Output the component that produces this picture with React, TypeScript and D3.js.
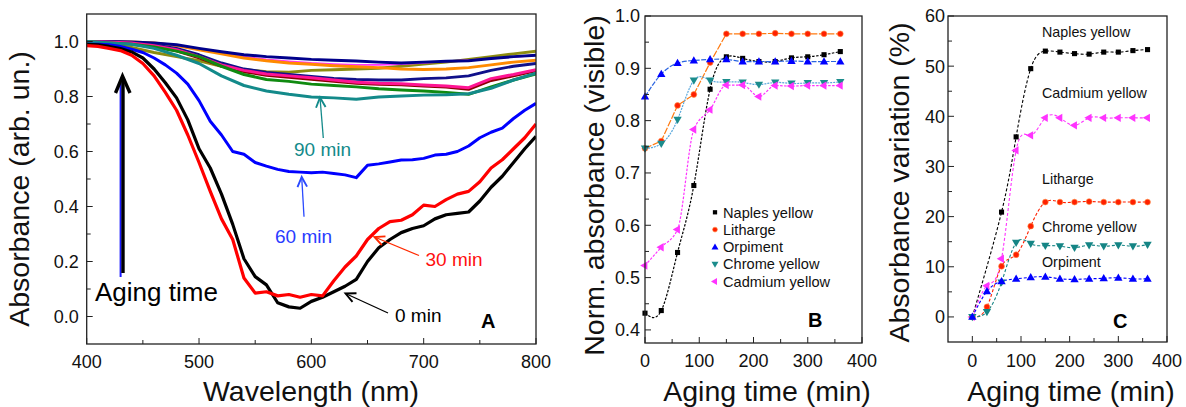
import React from "react";
import * as d3 from "d3";

const FONT = "'Liberation Sans', Arial, Helvetica, sans-serif";

// ---------------- Panel A data ----------------
const wavelengths = [400, 410, 420, 430, 440, 450, 460, 470, 480, 490, 500, 510, 520, 530, 540, 550, 560, 570, 580, 590, 600, 610, 620, 630, 640, 650, 660, 670, 680, 690, 700, 710, 720, 730, 740, 750, 760, 770, 780, 790, 800];
const wavelengths20 = [400, 420, 440, 460, 480, 500, 520, 540, 560, 580, 600, 620, 640, 660, 680, 700, 720, 740, 760, 780, 800];

const spec0min = [0.99, 0.988, 0.982, 0.974, 0.962, 0.94, 0.9, 0.85, 0.795, 0.715, 0.61, 0.54, 0.445, 0.335, 0.21, 0.145, 0.115, 0.05, 0.035, 0.03, 0.055, 0.07, 0.09, 0.11, 0.135, 0.2, 0.25, 0.28, 0.305, 0.32, 0.33, 0.355, 0.37, 0.375, 0.38, 0.42, 0.47, 0.51, 0.56, 0.61, 0.655];
const spec30min = [0.985, 0.982, 0.975, 0.967, 0.95, 0.92, 0.875, 0.815, 0.75, 0.66, 0.56, 0.455, 0.355, 0.28, 0.14, 0.085, 0.09, 0.075, 0.08, 0.07, 0.08, 0.075, 0.13, 0.18, 0.22, 0.28, 0.32, 0.345, 0.35, 0.37, 0.405, 0.4, 0.425, 0.445, 0.455, 0.49, 0.54, 0.57, 0.61, 0.65, 0.7];
const spec60min = [0.99, 0.99, 0.988, 0.982, 0.972, 0.96, 0.94, 0.915, 0.885, 0.845, 0.785, 0.71, 0.66, 0.6, 0.59, 0.56, 0.547, 0.535, 0.527, 0.525, 0.523, 0.525, 0.52, 0.515, 0.505, 0.55, 0.555, 0.562, 0.569, 0.57, 0.575, 0.587, 0.59, 0.6, 0.62, 0.65, 0.67, 0.685, 0.72, 0.75, 0.775];
const spec90min = [1.0, 0.995, 0.99, 0.975, 0.95, 0.92, 0.875, 0.84, 0.82, 0.808, 0.798, 0.795, 0.79, 0.798, 0.802, 0.805, 0.806, 0.81, 0.83, 0.86, 0.885];
const specGreen = [1.0, 0.995, 0.99, 0.98, 0.965, 0.945, 0.91, 0.88, 0.862, 0.855, 0.845, 0.84, 0.835, 0.828, 0.824, 0.82, 0.815, 0.808, 0.835, 0.86, 0.882];
const specPink = [1.0, 0.998, 0.995, 0.985, 0.97, 0.945, 0.915, 0.895, 0.882, 0.875, 0.868, 0.86, 0.852, 0.848, 0.846, 0.842, 0.838, 0.832, 0.865, 0.88, 0.897];
const specMaroon = [0.998, 0.996, 0.992, 0.982, 0.966, 0.94, 0.91, 0.89, 0.877, 0.87, 0.862, 0.855, 0.848, 0.844, 0.842, 0.838, 0.834, 0.826, 0.858, 0.875, 0.893];
const specNavy2 = [1.0, 0.998, 0.995, 0.988, 0.975, 0.952, 0.922, 0.9, 0.888, 0.88, 0.873, 0.866, 0.862, 0.86, 0.86, 0.865, 0.868, 0.875, 0.895, 0.91, 0.92];
const specOlive = [0.995, 0.99, 0.978, 0.96, 0.945, 0.93, 0.91, 0.898, 0.89, 0.888, 0.895, 0.897, 0.9, 0.903, 0.91, 0.918, 0.925, 0.935, 0.945, 0.955, 0.965];
const specMagenta = [1.0, 0.999, 0.998, 0.992, 0.985, 0.972, 0.958, 0.945, 0.935, 0.928, 0.922, 0.918, 0.915, 0.915, 0.918, 0.922, 0.928, 0.932, 0.938, 0.944, 0.95];
const specOrange = [1.0, 1.0, 0.998, 0.995, 0.985, 0.97, 0.955, 0.94, 0.93, 0.922, 0.917, 0.912, 0.908, 0.905, 0.9, 0.898, 0.9, 0.905, 0.915, 0.925, 0.932];
const specNavy = [1.0, 1.0, 0.998, 0.995, 0.988, 0.975, 0.963, 0.952, 0.945, 0.94, 0.935, 0.932, 0.929, 0.925, 0.922, 0.925, 0.928, 0.93, 0.938, 0.945, 0.95];

const xTicksA = [400, 500, 600, 700, 800];
const xMinorA = [450, 550, 650, 750];
const yTicksA = [0, 0.2, 0.4, 0.6, 0.8, 1.0];
const yMinorA = [0.1, 0.3, 0.5, 0.7, 0.9];

// ---------------- Panels B & C data ----------------
const agingTimes = [0, 30, 60, 90, 120, 150, 180, 210, 240, 270, 300, 330, 360];
const seriesNames = ["Naples yellow", "Litharge", "Orpiment", "Chrome yellow", "Cadmium yellow"];

const normNaples = [0.432, 0.437, 0.548, 0.676, 0.86, 0.922, 0.919, 0.913, 0.913, 0.92, 0.922, 0.926, 0.932];
const normLitharge = [0.747, 0.761, 0.829, 0.85, 0.911, 0.966, 0.966, 0.966, 0.967, 0.966, 0.966, 0.966, 0.966];
const normOrpiment = [0.846, 0.889, 0.91, 0.915, 0.917, 0.917, 0.913, 0.913, 0.913, 0.914, 0.913, 0.913, 0.913];
const normChrome = [0.747, 0.756, 0.802, 0.877, 0.877, 0.874, 0.873, 0.869, 0.873, 0.871, 0.872, 0.872, 0.874];
const normCadmium = [0.523, 0.558, 0.592, 0.783, 0.821, 0.868, 0.868, 0.846, 0.867, 0.866, 0.867, 0.867, 0.867];

const varNaples = [0, null, 20.9, 35.9, 49.5, 53.0, 52.8, 52.5, 52.4, 52.8, 52.8, 53.1, 53.3];
const varCadmium = [0, 6.2, 11.6, 33.2, 36.2, 39.7, 39.7, 38.2, 39.7, 39.7, 39.7, 39.7, 39.7];
const varLitharge = [0, 2.0, 10.1, 12.4, 18.1, 22.9, 22.9, 22.9, 23.0, 22.9, 22.9, 22.9, 22.9];
const varChrome = [0, 1.0, 6.9, 14.8, 14.6, 14.2, 14.1, 13.8, 14.3, 14.1, 14.3, 14.1, 14.4];
const varOrpiment = [0, 5.1, 7.1, 7.6, 7.9, 8.0, 7.6, 7.5, 7.6, 7.7, 7.8, 7.6, 7.6];

const xTicksBC = [0, 100, 200, 300, 400];
const xMinorBC = [50, 150, 250, 350];
const yTicksB = [0.4, 0.5, 0.6, 0.7, 0.8, 0.9, 1.0];
const yMinorB = [0.45, 0.55, 0.65, 0.75, 0.85, 0.95];
const yTicksC = [0, 10, 20, 30, 40, 50, 60];
const yMinorC = [5, 15, 25, 35, 45, 55];

// ---------------- Layout ----------------
const W = 1186, H = 407;
const boxA = { l: 86.7, r: 536, t: 14, b: 344 };
const boxB = { l: 645, r: 862, t: 16, b: 343 };
const boxC = { l: 948, r: 1167, t: 16, b: 342 };

const xA = d3.scaleLinear().domain([400, 800]).range([boxA.l, boxA.r]);
const yA = d3.scaleLinear().domain([-0.1, 1.1]).range([boxA.b, boxA.t]);
const xB = d3.scaleLinear().domain([0, 400]).range([boxB.l, boxB.r]);
const yB = d3.scaleLinear().domain([0.375, 1.0]).range([boxB.b, boxB.t]);
const xC = d3.scaleLinear().domain([-50, 400]).range([boxC.l, boxC.r]);
const yC = d3.scaleLinear().domain([-5, 60]).range([boxC.b, boxC.t]);

type Box = { l: number; r: number; t: number; b: number };

function Axes(props: {
  box: Box; xs: any; ys: any; xMajor: number[]; xMinor: number[]; yMajor: number[]; yMinor: number[];
  xFmt: (v: number) => string; yFmt: (v: number) => string; yLabelGap: number; xLabelY: number;
}) {
  const { box, xs, ys, xMajor, xMinor, yMajor, yMinor, xFmt, yFmt, yLabelGap, xLabelY } = props;
  const tl = 6, tm = 4;
  return (
    <g>
      {xMajor.map((v) => (
        <g key={"xM" + v}>
          <line x1={xs(v)} x2={xs(v)} y1={box.b} y2={box.b - tl} stroke="#222" strokeWidth={1} />
          <text x={xs(v)} y={xLabelY} textAnchor="middle" fontSize={18} fontFamily={FONT} fill="#111">{xFmt(v)}</text>
        </g>
      ))}
      {xMinor.map((v) => (
        <line key={"xm" + v} x1={xs(v)} x2={xs(v)} y1={box.b} y2={box.b - tm} stroke="#222" strokeWidth={1} />
      ))}
      {yMajor.map((v) => (
        <g key={"yM" + v}>
          <line x1={box.l} x2={box.l + tl} y1={ys(v)} y2={ys(v)} stroke="#222" strokeWidth={1} />
          <text x={box.l - yLabelGap} y={ys(v)} dy="0.36em" textAnchor="end" fontSize={18} fontFamily={FONT} fill="#111">{yFmt(v)}</text>
        </g>
      ))}
      {yMinor.map((v) => (
        <line key={"ym" + v} x1={box.l} x2={box.l + tm} y1={ys(v)} y2={ys(v)} stroke="#222" strokeWidth={1} />
      ))}
      <rect x={box.l} y={box.t} width={box.r - box.l} height={box.b - box.t} fill="none" stroke="#222" strokeWidth={1.3} />
    </g>
  );
}

function Arrow(props: { x1: number; y1: number; x2: number; y2: number; color: string; w?: number; head?: number }) {
  const { x1, y1, x2, y2, color } = props;
  const w = props.w ?? 1.3;
  const h = props.head ?? 11;
  const ang = Math.atan2(y2 - y1, x2 - x1);
  const a1 = ang + Math.PI - 0.45, a2 = ang + Math.PI + 0.45;
  const p1 = [x2 + h * Math.cos(a1), y2 + h * Math.sin(a1)];
  const p2 = [x2 + h * Math.cos(a2), y2 + h * Math.sin(a2)];
  return (
    <g stroke={color} fill="none" strokeWidth={w}>
      <line x1={x1} y1={y1} x2={x2} y2={y2} />
      <polyline points={`${p1[0]},${p1[1]} ${x2},${y2} ${p2[0]},${p2[1]}`} strokeWidth={w + 0.6} />
    </g>
  );
}

const symPath = (type: any, size: number) => d3.symbol().type(type).size(size)() as string;

function Marker(props: { kind: string; x: number; y: number; color: string; s?: number }) {
  const { kind, x, y, color } = props;
  const s = props.s ?? 1;
  if (kind === "square") return <path d={symPath(d3.symbolSquare, 26 * s)} transform={`translate(${x},${y})`} fill={color} />;
  if (kind === "circle") return <circle cx={x} cy={y} r={2.9 * Math.sqrt(s)} fill={color} stroke="#ff8c40" strokeWidth={0.6} />;
  if (kind === "up") return <path d={symPath(d3.symbolTriangle, 30 * s)} transform={`translate(${x},${y + 0.5})`} fill={color} />;
  if (kind === "down") return <path d={symPath(d3.symbolTriangle, 30 * s)} transform={`translate(${x},${y - 0.5}) rotate(180)`} fill={color} />;
  return <path d={symPath(d3.symbolTriangle, 30 * s)} transform={`translate(${x},${y}) rotate(-90)`} fill={color} />;
}

export default function App() {
  const specLine = (wl: number[]) => d3.line<number>().x((_, i) => xA(wl[i])).y((v) => yA(v)).curve(d3.curveLinear);
  const specs = [
    { wl: wavelengths20, v: specOlive, c: "#8c8c10", w: 3 },
    { wl: wavelengths20, v: specMagenta, c: "#ff30ff", w: 1.8 },
    { wl: wavelengths20, v: specOrange, c: "#ff8a00", w: 3 },
    { wl: wavelengths20, v: specNavy, c: "#00008b", w: 3 },
    { wl: wavelengths20, v: specNavy2, c: "#10108a", w: 2.8 },
    { wl: wavelengths20, v: specMaroon, c: "#8b0000", w: 2.8 },
    { wl: wavelengths20, v: specPink, c: "#ff1493", w: 3 },
    { wl: wavelengths20, v: specGreen, c: "#108a10", w: 3 },
    { wl: wavelengths20, v: spec90min, c: "#138a8a", w: 3 },
    { wl: wavelengths, v: spec60min, c: "#0000ff", w: 3 },
    { wl: wavelengths, v: spec0min, c: "#000000", w: 3.2 },
    { wl: wavelengths, v: spec30min, c: "#ff0000", w: 3.2 },
  ];

  const lineB = (vals: (number | null)[], curve: any) => {
    const pts = agingTimes.map((t, i) => [t, vals[i]] as [number, number | null]).filter((p) => p[1] !== null) as [number, number][];
    return d3.line<[number, number]>().x((p) => xB(p[0])).y((p) => yB(p[1])).curve(curve)(pts) as string;
  };
  const lineC = (vals: (number | null)[], curve: any) => {
    const pts = agingTimes.map((t, i) => [t, vals[i]] as [number, number | null]).filter((p) => p[1] !== null) as [number, number][];
    return d3.line<[number, number]>().x((p) => xC(p[0])).y((p) => yC(p[1])).curve(curve)(pts) as string;
  };

  const bSeries = [
    { name: seriesNames[0], v: normNaples, kind: "square", mc: "#000000", lc: "#000000", dash: "2.5,1.5", curve: d3.curveNatural },
    { name: seriesNames[1], v: normLitharge, kind: "circle", mc: "#ff2000", lc: "#ff7a10", dash: "7,1.5", curve: d3.curveLinear },
    { name: seriesNames[2], v: normOrpiment, kind: "up", mc: "#0000ff", lc: "#2a64e0", dash: "5,1.5", curve: d3.curveNatural },
    { name: seriesNames[3], v: normChrome, kind: "down", mc: "#1b8c8c", lc: "#5aa8dc", dash: "2,1", curve: d3.curveNatural },
    { name: seriesNames[4], v: normCadmium, kind: "left", mc: "#ff33ff", lc: "#ff33ff", dash: "2.5,1.5", curve: d3.curveMonotoneX },
  ];
  const cSeries = [
    { v: varNaples, kind: "square", c: "#000000" },
    { v: varCadmium, kind: "left", c: "#ff33ff" },
    { v: varLitharge, kind: "circle", c: "#ff2000" },
    { v: varChrome, kind: "down", c: "#158585" },
    { v: varOrpiment, kind: "up", c: "#0000ff" },
  ];
  const cLabels = [
    { t: "Naples yellow", y: 36.7 },
    { t: "Cadmium yellow", y: 98.3 },
    { t: "Litharge", y: 183.5 },
    { t: "Chrome yellow", y: 231.7 },
    { t: "Orpiment", y: 266.7 },
  ];

  return (
    <svg width={W} height={H} viewBox={`0 0 ${W} ${H}`} style={{ position: "absolute", left: 0, top: 0, display: "block", background: "#fff" }}>
      <rect x={0} y={0} width={W} height={H} fill="#fff" />
      {/* ---------- Panel A ---------- */}
      <defs>
        <clipPath id="clipA"><rect x={boxA.l} y={boxA.t} width={boxA.r - boxA.l} height={boxA.b - boxA.t} /></clipPath>
        <clipPath id="clipB"><rect x={boxB.l} y={boxB.t} width={boxB.r - boxB.l} height={boxB.b - boxB.t} /></clipPath>
      </defs>
      <g clipPath="url(#clipA)">
        {specs.map((s, i) => (
          <path key={i} d={specLine(s.wl)(s.v) as string} fill="none" stroke={s.c} strokeWidth={s.w} strokeLinejoin="round" />
        ))}
      </g>
      <Axes box={boxA} xs={xA} ys={yA} xMajor={xTicksA} xMinor={xMinorA} yMajor={yTicksA} yMinor={yMinorA}
        xFmt={(v) => String(v)} yFmt={(v) => v.toFixed(1)} yLabelGap={8} xLabelY={368} />
      <text transform="translate(29,189) rotate(-90)" textAnchor="middle" fontSize={28.5} fontFamily={FONT} fill="#111">Absorbance (arb. un.)</text>
      <text x={311} y={401} textAnchor="middle" fontSize={28.5} fontFamily={FONT} fill="#111">Wavelength (nm)</text>

      {/* aging time arrow */}
      <line x1={120.6} y1={277} x2={120.6} y2={80} stroke="#1a1aff" strokeWidth={2} />
      <line x1={123} y1={273} x2={123} y2={78} stroke="#000" strokeWidth={3.4} />
      <polyline points="115.5,93 122.5,76 130,93" fill="none" stroke="#000" strokeWidth={3.4} />
      <text x={95} y={301} fontSize={26} fontFamily={FONT} fill="#000">Aging time</text>

      <Arrow x1={323.3} y1={138} x2={320} y2={97.5} color="#138a8a" />
      <text x={294} y={156} fontSize={19} fontFamily={FONT} fill="#138a8a">90 min</text>
      <Arrow x1={304} y1={216.7} x2={301.7} y2={177} color="#2a4aff" />
      <text x={275} y={243} fontSize={19} fontFamily={FONT} fill="#2a3cff">60 min</text>
      <Arrow x1={419} y1={255.5} x2={374.5} y2={237} color="#ff2a00" />
      <text x={425.5} y={266} fontSize={19} fontFamily={FONT} fill="#ff1010">30 min</text>
      <Arrow x1={388} y1={313} x2={345.5} y2={293.5} color="#000" />
      <text x={395} y={322} fontSize={19} fontFamily={FONT} fill="#000">0 min</text>
      <text x={481} y={328} fontSize={20} fontWeight="bold" fontFamily={FONT} fill="#000">A</text>

      {/* ---------- Panel B ---------- */}
      <g clipPath="url(#clipB)">
        {bSeries.map((s, i) => (
          <path key={"bl" + i} d={lineB(s.v, s.curve)} fill="none" stroke={s.lc} strokeWidth={1.2} strokeDasharray={s.dash} />
        ))}
      </g>
      {bSeries.map((s, i) => (
        <g key={"bm" + i}>
          {agingTimes.map((t, j) => (
            <Marker key={j} kind={s.kind} x={xB(t)} y={yB(s.v[j] as number)} color={s.mc} />
          ))}
        </g>
      ))}
      <Axes box={boxB} xs={xB} ys={yB} xMajor={xTicksBC} xMinor={xMinorBC} yMajor={yTicksB} yMinor={yMinorB}
        xFmt={(v) => String(v)} yFmt={(v) => v.toFixed(1)} yLabelGap={5} xLabelY={367} />
      <text transform="translate(604,185.5) rotate(-90)" textAnchor="middle" fontSize={28.5} fontFamily={FONT} fill="#111">Norm. absorbance (visible)</text>
      <text x={767} y={401} textAnchor="middle" fontSize={28.5} fontFamily={FONT} fill="#111">Aging time (min)</text>
      {bSeries.map((s, i) => (
        <g key={"lg" + i}>
          <Marker kind={s.kind} x={715} y={212.3 + i * 17.3} color={s.mc} s={0.7} />
          <text x={723} y={212.3 + i * 17.3 + 5.2} fontSize={14.6} fontFamily={FONT} fill="#111">{s.name}</text>
        </g>
      ))}
      <text x={808} y={327} fontSize={20} fontWeight="bold" fontFamily={FONT} fill="#000">B</text>

      {/* ---------- Panel C ---------- */}
      {cSeries.map((s, i) => (
        <path key={"cl" + i} d={lineC(s.v, d3.curveNatural)} fill="none" stroke={s.c} strokeWidth={1.1} strokeDasharray="3,2" />
      ))}
      {cSeries.map((s, i) => (
        <g key={"cm" + i}>
          {agingTimes.map((t, j) => (s.v[j] === null ? null :
            <Marker key={j} kind={s.kind} x={xC(t)} y={yC(s.v[j] as number)} color={s.c} />
          ))}
        </g>
      ))}
      <Axes box={boxC} xs={xC} ys={yC} xMajor={xTicksBC} xMinor={xMinorBC} yMajor={yTicksC} yMinor={yMinorC}
        xFmt={(v) => String(v)} yFmt={(v) => String(v)} yLabelGap={3} xLabelY={367} />
      <text transform="translate(909,182.5) rotate(-90)" textAnchor="middle" fontSize={28.5} fontFamily={FONT} fill="#111">Absorbance variation (%)</text>
      <text x={1071} y={401} textAnchor="middle" fontSize={28.5} fontFamily={FONT} fill="#111">Aging time (min)</text>
      {cLabels.map((l) => (
        <text key={l.t} x={1042} y={l.y} fontSize={14.3} fontFamily={FONT} fill="#111">{l.t}</text>
      ))}
      <text x={1113} y={328} fontSize={20} fontWeight="bold" fontFamily={FONT} fill="#000">C</text>
    </svg>
  );
}
